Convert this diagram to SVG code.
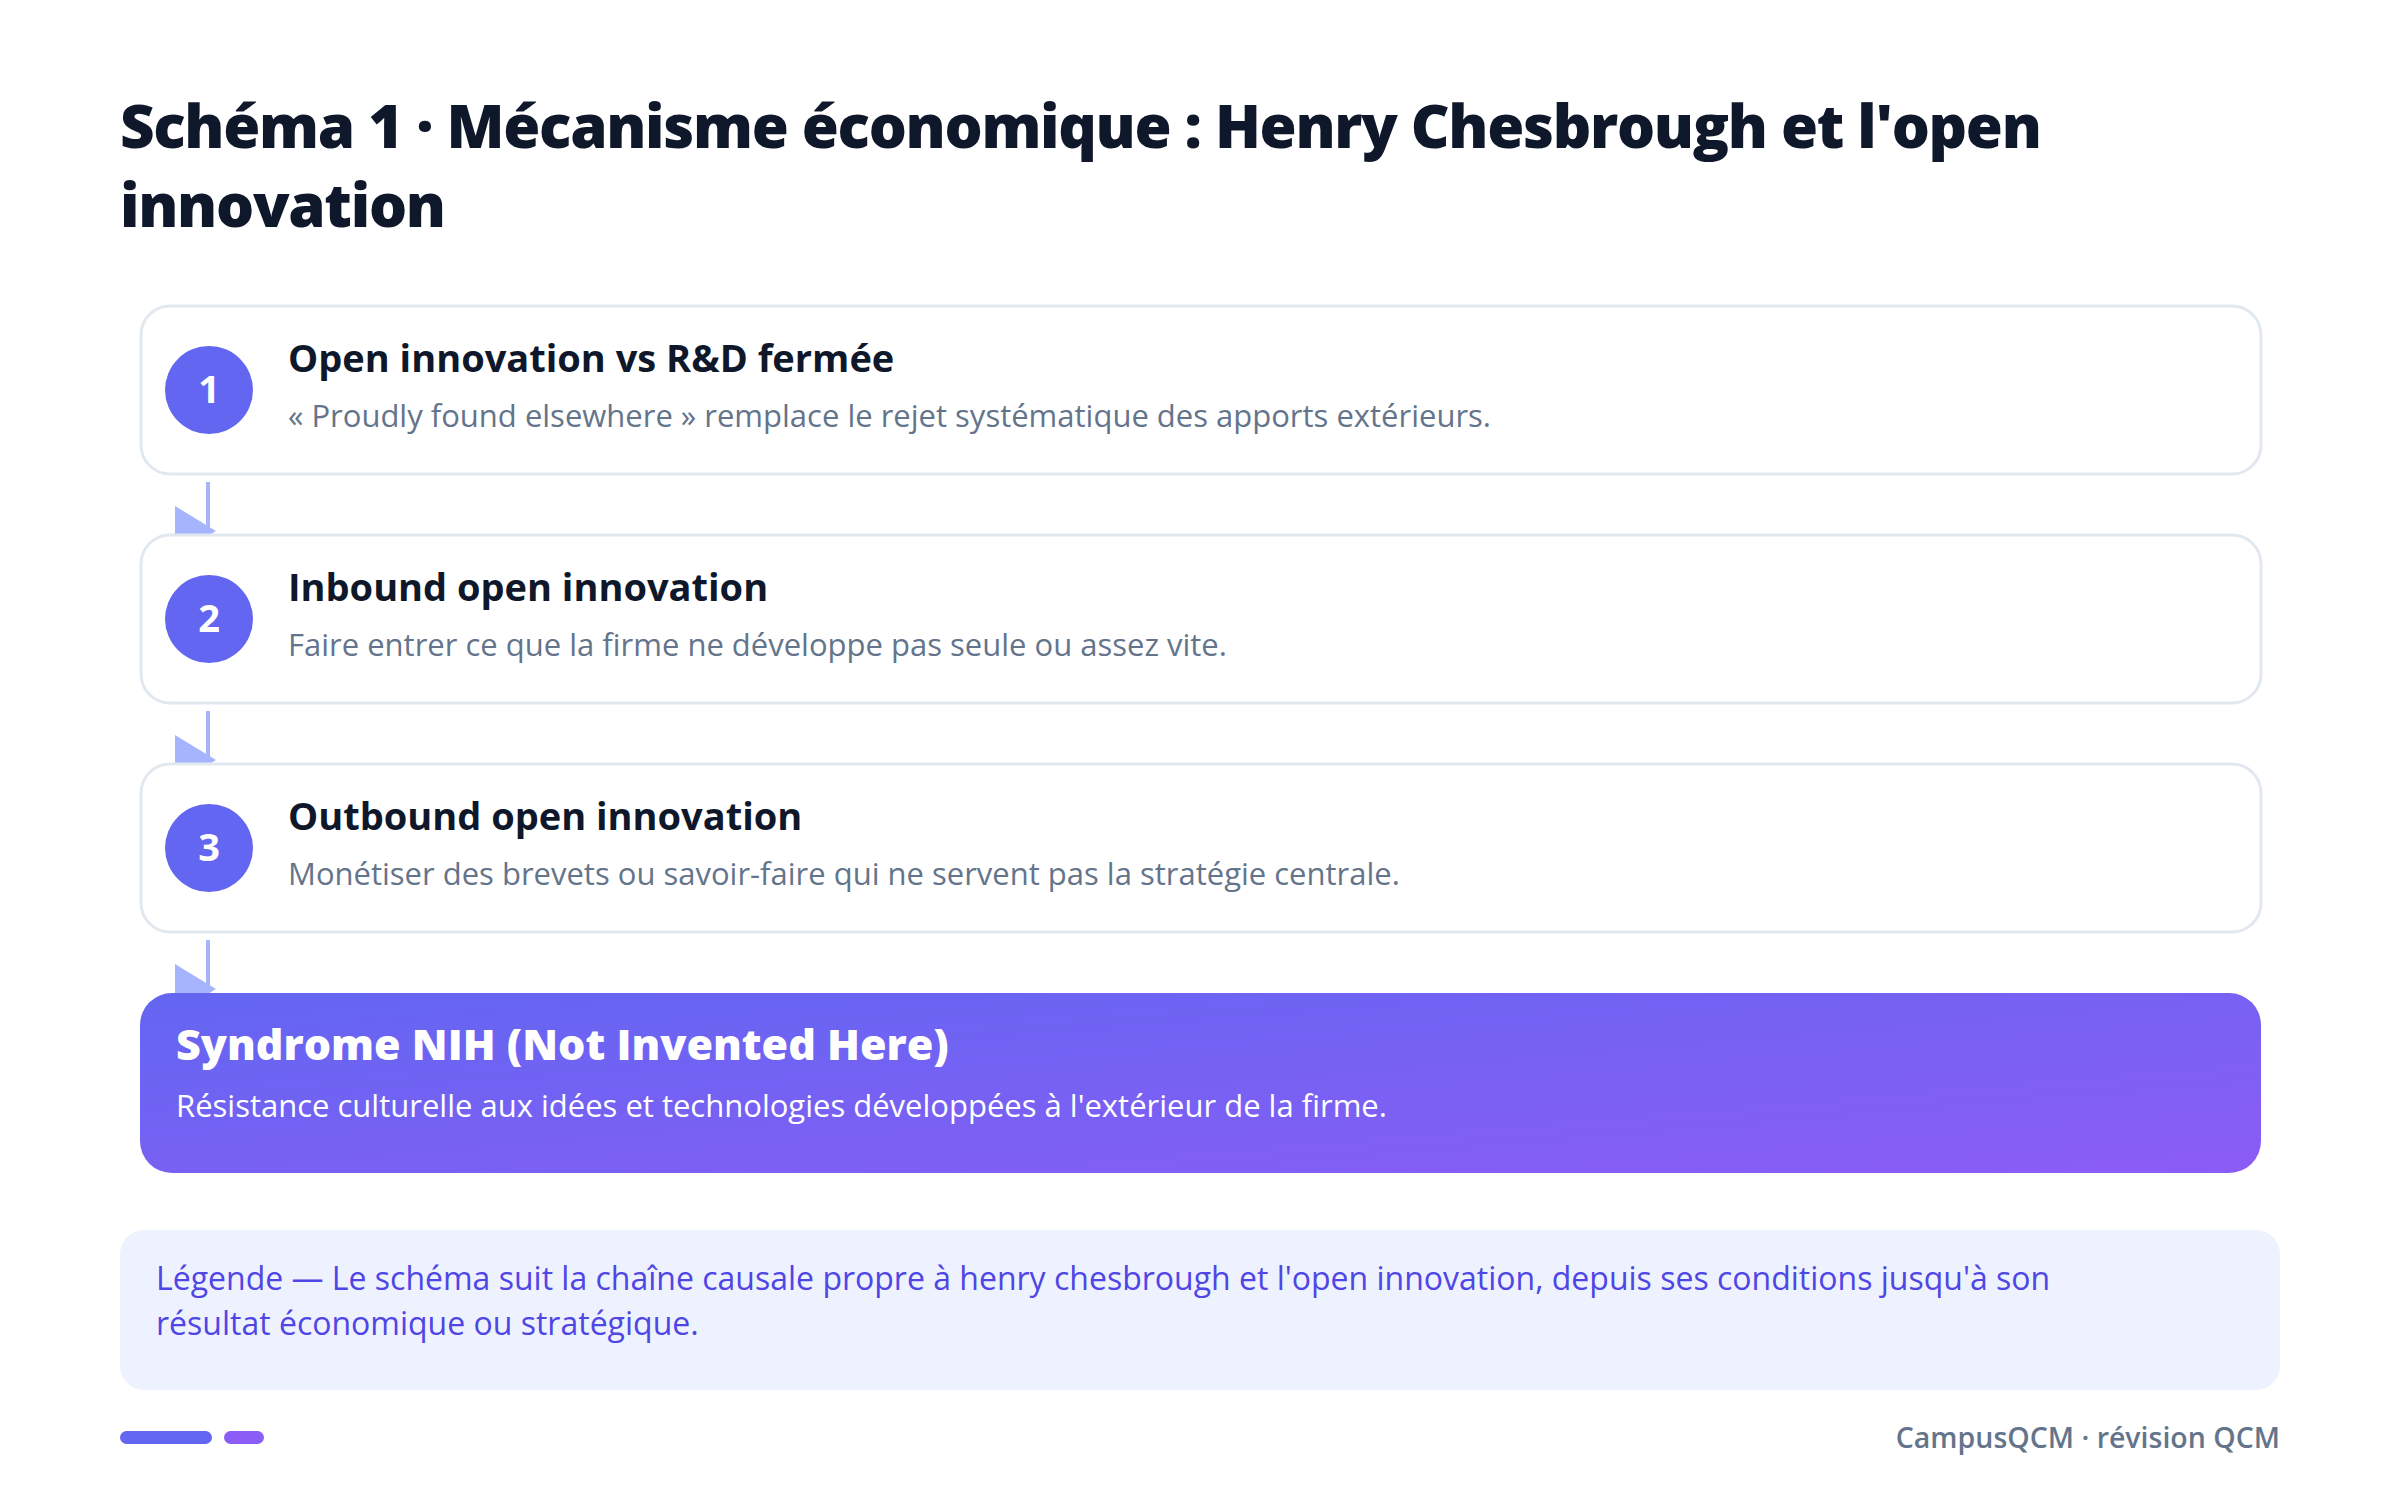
<svg xmlns="http://www.w3.org/2000/svg" width="2400" height="1499" viewBox="0 0 2400 1499">
  <defs>
    <linearGradient id="gFinal" x1="0" y1="0" x2="1" y2="1">
      <stop offset="0" stop-color="#6366f1"/>
      <stop offset="1" stop-color="#8b5cf6"/>
    </linearGradient>
    <style>
      .title { font-family: "Open Sans", "Noto Sans", sans-serif; font-weight: 800; font-size: 60px; letter-spacing: -1.3px; fill: #0f172a; }
      .card { fill: #ffffff; stroke: #e2e8f0; stroke-width: 3; }
      .badge { fill: #6366f1; }
      .num { font-family: "Open Sans", "Noto Sans", sans-serif; font-weight: 700; font-size: 38px; fill: #ffffff; text-anchor: middle; }
      .ctitle { font-family: "Open Sans", "Noto Sans", sans-serif; font-weight: 700; font-size: 38px; fill: #0f172a; }
      .csub { font-family: "Open Sans", "Noto Sans", sans-serif; font-weight: 400; font-size: 31px; fill: #64748b; }
      .ftitle { font-family: "Open Sans", "Noto Sans", sans-serif; font-weight: 800; font-size: 43px; fill: #ffffff; }
      .fsub { font-family: "Open Sans", "Noto Sans", sans-serif; font-weight: 400; font-size: 31px; fill: #ffffff; }
      .conn line { stroke: #a5b4fc; stroke-width: 4; }
      .conn polygon { fill: #a5b4fc; }
      .legend { font-family: "Open Sans", "Noto Sans", sans-serif; font-weight: 400; font-size: 32px; fill: #4f46e5; }
      .footer { font-family: "Open Sans", "Noto Sans", sans-serif; font-weight: 600; font-size: 28.5px; fill: #64748b; text-anchor: end; }
    </style>
  </defs>
  <rect x="0" y="0" width="2400" height="1499" fill="#ffffff"/>

  <g id="title">
    <text class="title" x="120" y="148">Schéma 1 · Mécanisme économique : Henry Chesbrough et l'open</text>
    <text class="title" x="120" y="227">innovation</text>
  </g>

  <g id="connectors" class="conn">
    <line x1="208" y1="482" x2="208" y2="531"/>
    <polygon points="175,506 216,531 175,556"/>
    <line x1="208" y1="711" x2="208" y2="760"/>
    <polygon points="175,735 216,760 175,785"/>
    <line x1="208" y1="940" x2="208" y2="989"/>
    <polygon points="175,964 216,989 175,1014"/>
  </g>

  <g id="node1">
    <rect class="card" x="141" y="306" width="2120" height="168" rx="29"/>
    <circle class="badge" cx="209" cy="390" r="44"/>
    <text class="num" x="209" y="403">1</text>
    <text class="ctitle" x="288" y="372">Open innovation vs R&amp;D fermée</text>
    <text class="csub" x="288" y="427">« Proudly found elsewhere » remplace le rejet systématique des apports extérieurs.</text>
  </g>

  <g id="node2">
    <rect class="card" x="141" y="535" width="2120" height="168" rx="29"/>
    <circle class="badge" cx="209" cy="619" r="44"/>
    <text class="num" x="209" y="632">2</text>
    <text class="ctitle" x="288" y="601">Inbound open innovation</text>
    <text class="csub" x="288" y="656">Faire entrer ce que la firme ne développe pas seule ou assez vite.</text>
  </g>

  <g id="node3">
    <rect class="card" x="141" y="764" width="2120" height="168" rx="29"/>
    <circle class="badge" cx="209" cy="848" r="44"/>
    <text class="num" x="209" y="861">3</text>
    <text class="ctitle" x="288" y="830">Outbound open innovation</text>
    <text class="csub" x="288" y="885">Monétiser des brevets ou savoir-faire qui ne servent pas la stratégie centrale.</text>
  </g>

  <g id="node4">
    <rect x="140" y="993" width="2121" height="180" rx="32" fill="url(#gFinal)"/>
    <text class="ftitle" x="176" y="1060">Syndrome NIH (Not Invented Here)</text>
    <text class="fsub" x="176" y="1117">Résistance culturelle aux idées et technologies développées à l'extérieur de la firme.</text>
  </g>

  <g id="legend">
    <rect x="120" y="1230" width="2160" height="160" rx="24" fill="#eef2ff"/>
    <text class="legend" x="156" y="1290">Légende — Le schéma suit la chaîne causale propre à henry chesbrough et l'open innovation, depuis ses conditions jusqu'à son</text>
    <text class="legend" x="156" y="1335">résultat économique ou stratégique.</text>
  </g>

  <g id="footer">
    <rect x="120" y="1431" width="92" height="13" rx="6.5" fill="#6366f1"/>
    <rect x="224" y="1431" width="40" height="13" rx="6.5" fill="#8b5cf6"/>
    <text class="footer" x="2280" y="1448">CampusQCM · révision QCM</text>
  </g>
</svg>
